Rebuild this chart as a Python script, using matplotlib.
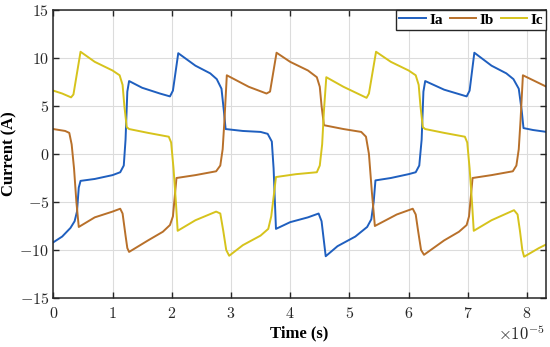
import matplotlib
matplotlib.use('Agg')
import matplotlib.pyplot as plt
from matplotlib.ticker import FuncFormatter, MultipleLocator

plt.rcParams['mathtext.fontset'] = 'cm'

# time in units of 1e-5 s, current in A (knots)
ia_t = [0, 0.15, 0.29, 0.36, 0.40, 0.43, 0.46, 0.7, 1.0, 1.13, 1.19, 1.22, 1.25, 1.28,
        1.5, 1.8, 1.97, 2.02, 2.11, 2.4, 2.65, 2.76, 2.84, 2.88, 2.91, 3.2, 3.5, 3.62,
        3.69, 3.72, 3.76, 4.0, 4.3, 4.48, 4.53, 4.6, 4.8, 5.1, 5.3, 5.37, 5.41, 5.44,
        5.7, 6.0, 6.12, 6.18, 6.22, 6.25, 6.28, 6.6, 6.98, 7.03, 7.11, 7.4, 7.65, 7.77,
        7.86, 7.91, 7.94, 8.1, 8.33]
ia_v = [-9.2, -8.6, -7.7, -7.0, -6.0, -3.5, -2.8, -2.6, -2.2, -1.9, -1.2, 1.5, 6.5, 7.6,
        6.9, 6.3, 6.0, 6.6, 10.5, 9.2, 8.4, 7.8, 6.8, 4.5, 2.6, 2.4, 2.3, 2.1,
        1.3, -1.5, -7.8, -7.1, -6.6, -6.2, -7.0, -10.65, -9.6, -8.6, -7.6, -6.8, -5.0, -2.75,
        -2.5, -2.1, -1.9, -1.2, 1.5, 6.5, 7.6, 6.7, 6.0, 6.6, 10.55, 9.2, 8.4, 7.8,
        6.8, 4.5, 2.7, 2.5, 2.3]

ib_t = [0, 0.2, 0.27, 0.31, 0.35, 0.39, 0.43, 0.7, 1.0, 1.13, 1.17, 1.22, 1.25, 1.28,
        1.6, 1.85, 1.97, 2.02, 2.05, 2.08, 2.4, 2.75, 2.82, 2.86, 2.89, 2.93, 3.3, 3.6,
        3.66, 3.77, 4.0, 4.3, 4.45, 4.5, 4.53, 4.57, 4.9, 5.2, 5.28, 5.33, 5.38, 5.43,
        5.8, 6.07, 6.12, 6.16, 6.21, 6.26, 6.6, 6.85, 6.98, 7.02, 7.05, 7.08, 7.4, 7.76,
        7.82, 7.86, 7.89, 7.93, 8.33]
ib_v = [2.6, 2.4, 2.2, 1.0, -1.5, -5.0, -7.6, -6.6, -6.0, -5.7, -6.2, -8.5, -9.8, -10.2,
        -9.0, -8.1, -7.4, -6.5, -4.5, -2.5, -2.2, -1.8, -1.2, 0.5, 3.5, 8.2, 7.0, 6.3,
        6.5, 10.55, 9.6, 8.7, 8.0, 7.0, 5.0, 3.0, 2.6, 2.3, 1.8, 0.0, -4.0, -7.5,
        -6.3, -5.7, -6.3, -8.0, -10.0, -10.5, -9.0, -8.1, -7.4, -6.5, -4.5, -2.5, -2.2, -1.8,
        -1.2, 0.5, 3.5, 8.2, 7.0]

ic_t = [0, 0.15, 0.3, 0.34, 0.46, 0.7, 1.0, 1.12, 1.17, 1.2, 1.24, 1.28, 1.6, 1.95,
        1.99, 2.03, 2.07, 2.1, 2.4, 2.75, 2.82, 2.87, 2.92, 2.97, 3.2, 3.5, 3.63, 3.68,
        3.72, 3.76, 4.1, 4.45, 4.5, 4.54, 4.57, 4.61, 4.9, 5.29, 5.33, 5.45, 5.7, 6.0,
        6.12, 6.17, 6.2, 6.24, 6.28, 6.6, 6.95, 6.99, 7.03, 7.07, 7.1, 7.4, 7.78, 7.84,
        7.88, 7.92, 7.95, 8.2, 8.33]
ic_v = [6.6, 6.3, 5.9, 6.2, 10.65, 9.6, 8.7, 8.2, 7.2, 5.0, 2.8, 2.6, 2.2, 1.8,
        1.2, -1.5, -5.0, -8.0, -6.9, -6.0, -6.2, -8.0, -10.0, -10.6, -9.5, -8.5, -7.8, -6.5,
        -4.5, -2.4, -2.1, -1.9, -1.2, 1.0, 4.5, 8.0, 7.0, 5.85, 6.3, 10.65, 9.6, 8.7,
        8.2, 7.2, 5.0, 2.8, 2.6, 2.2, 1.8, 1.2, -1.5, -5.0, -8.0, -6.9, -5.85, -6.3,
        -8.0, -10.0, -10.7, -9.8, -9.4]

labels = ['Ia', 'Ib', 'Ic']
colors = ['#1f5fbf', '#b8702a', '#d6c31c']

fig = plt.figure(figsize=(5.5, 3.47), dpi=100)
ax = fig.add_axes([53.3 / 550, 1 - 298 / 347, (546 - 53.3) / 550, (298 - 10) / 347])

for t, v, lab, c in zip([ia_t, ib_t, ic_t], [ia_v, ib_v, ic_v], labels, colors):
    ax.plot(t, v, color=c, lw=1.4, label=lab)

ax.set_xlim(0, 8.32)
ax.set_ylim(-15, 15)
ax.xaxis.set_major_locator(MultipleLocator(1))
ax.yaxis.set_major_locator(MultipleLocator(5))
fmt = FuncFormatter(lambda v, p: r'$%g$' % round(v, 6))
ax.xaxis.set_major_formatter(fmt)
ax.yaxis.set_major_formatter(fmt)
ax.tick_params(direction='in', length=4, width=1.0, top=True, right=True,
               labelsize=11.5, colors='#262626')
ax.tick_params(axis='x', pad=6)
ax.tick_params(axis='y', pad=3)
ax.grid(True, color='#dcdcdc', lw=0.8)
ax.set_axisbelow(True)
for s in ax.spines.values():
    s.set_linewidth(1.1)
    s.set_color('#262626')

lab_font = dict(family='Liberation Serif', weight='bold', size=12)
ax.set_xlabel('Time (s)', labelpad=3, **lab_font)
ax.set_ylabel('Current (A)', **lab_font)
ax.yaxis.set_label_coords(-0.072, 0.5)
fig.text(545 / 550, 1 - 340 / 347, r'$\times10^{-5}$', ha='right', va='baseline',
         fontsize=12, color='#262626')

leg = ax.legend(ncol=3, loc='upper right', bbox_to_anchor=(1, 1), borderaxespad=0,
                fancybox=False, edgecolor='#262626', framealpha=1, handlelength=1.75,
                handletextpad=0.2, columnspacing=0.45, borderpad=0.2,
                prop=dict(family='Liberation Serif', weight='bold', size=11))
leg.get_frame().set_linewidth(1.0)

fig.savefig('out.png', dpi=100)
